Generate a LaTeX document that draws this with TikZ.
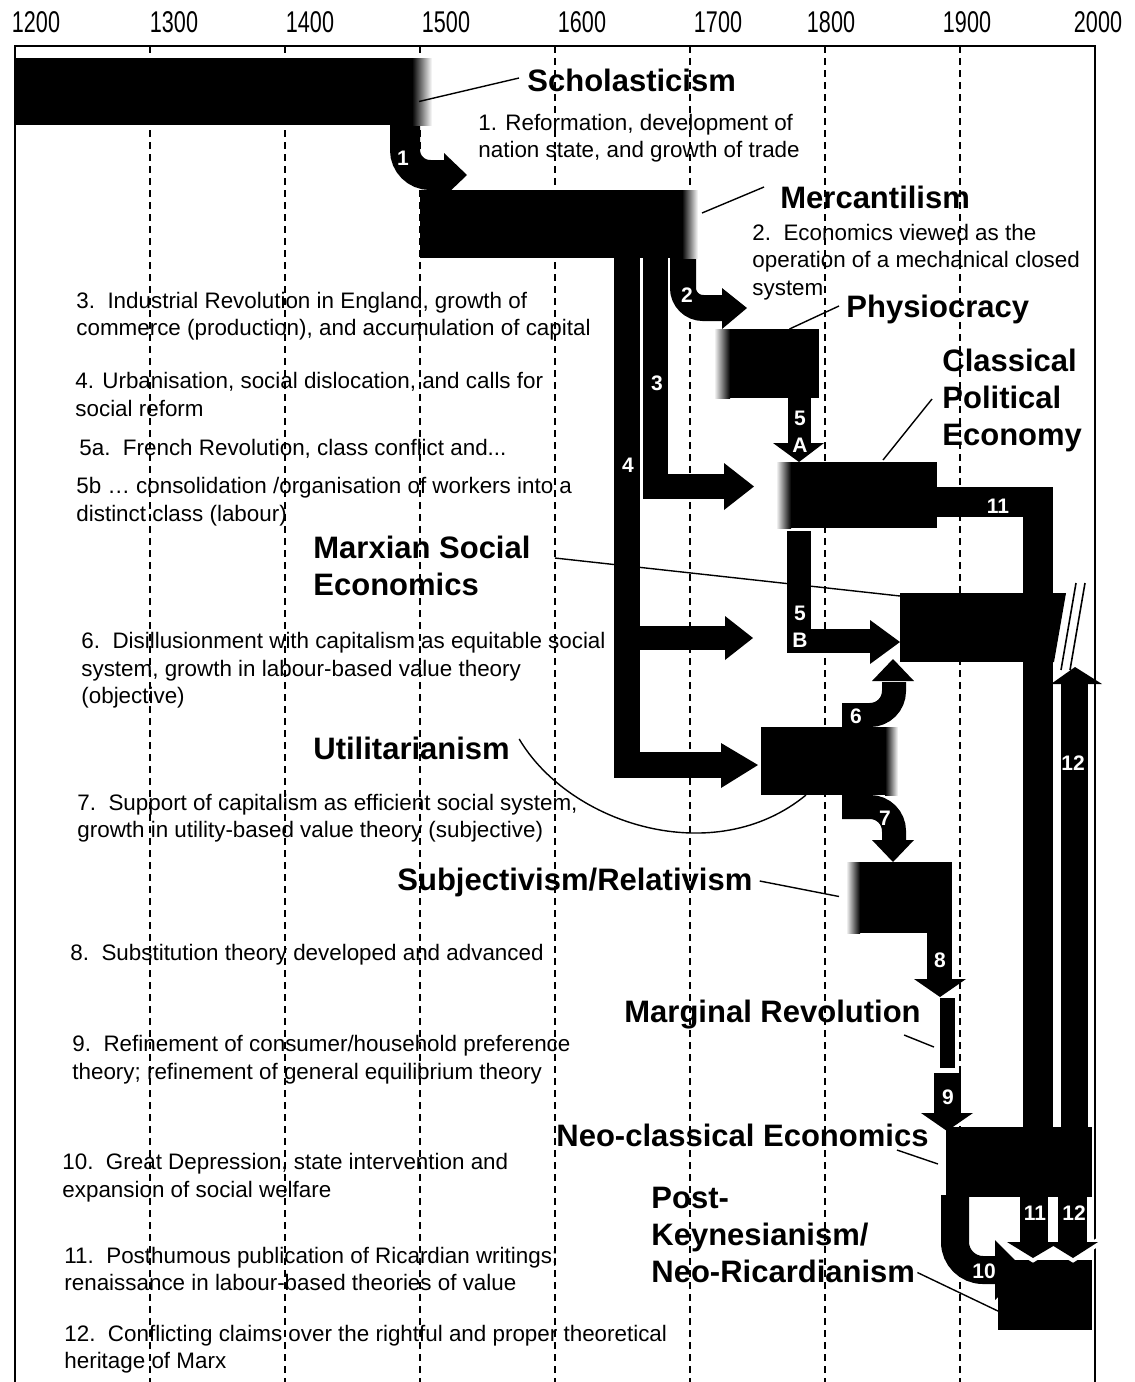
\documentclass[tikz,border=0pt]{standalone}
\usepackage{fontspec}
\setmainfont{Liberation Sans}
\newfontfamily\yearfont[FakeStretch=0.72]{Liberation Sans}
\usetikzlibrary{fit,calc}

\tikzset{
  blk/.style={fill=black, inner sep=0pt, outer sep=0pt},
  flow/.style={draw=black, line width=#1},
  yearline/.style={dash pattern=on 3.5pt off 2.5pt, line width=0.6pt},
  school/.style={font=\fontsize{15.5}{18.5}\selectfont\bfseries, align=left, anchor=west, inner sep=0pt},
  note/.style={font=\fontsize{11.2}{13.7}\selectfont, align=left, anchor=west, inner sep=0pt},
  num/.style={font=\fontsize{10.5}{13.5}\selectfont\bfseries, text=white, align=center, inner sep=0pt},
  year/.style={font=\yearfont\fontsize{15}{16}\selectfont, inner sep=0pt},
  leader/.style={line width=0.7pt},
}

\begin{document}
\begin{tikzpicture}[x=0.5pt, y=-0.5pt]
\useasboundingbox (0,0) rectangle (1135,1382);

\foreach \yr/\x in {1200/36,1300/174,1400/310,1500/446,1600/582,1700/718,1800/831,1900/967,2000/1098}
  \node[year] (y\yr) at (\x,22) {\yr};
\foreach \x in {150,285,420,555,690,825,960}
  \draw[yearline] (\x,46) -- (\x,1382);
\draw[line width=1.2pt] (15,1382) -- (15,46) -- (1095,46) -- (1095,1382);

% notes
\node[note] (t1) at (478,138.5) {1. Reformation, development of\\nation state, and growth of trade};
\node[note] (t2) at (752,262) {2.\ \ Economics viewed as the\\operation of a mechanical closed\\system};
\node[note] (t3) at (76,316.5) {3.\ \ Industrial Revolution in England, growth of\\commerce (production), and accumulation of capital};
\node[note] (t4) at (75,394.5) {4. Urbanisation, social dislocation, and calls for\\social reform};
\node[note] (t5a) at (79,449) {5a.\ \ French Revolution, class conflict and...};
\node[note] (t5b) at (76,501.5) {5b … consolidation /organisation of workers into a\\distinct class (labour)};
\node[note] (t6) at (81,670.5) {6.\ \ Disillusionment with capitalism as equitable social\\system, growth in labour-based value theory\\(objective)};
\node[note] (t7) at (77,818) {7.\ \ Support of capitalism as efficient social system,\\growth in utility-based value theory (subjective)};
\node[note] (t8) at (70,955) {8.\ \ Substitution theory developed and advanced};
\node[note] (t9) at (72,1059.5) {9.\ \ Refinement of consumer/household preference\\theory; refinement of general equilibrium theory};
\node[note] (t10) at (62,1177.5) {10.\ \ Great Depression, state intervention and\\expansion of social welfare};
\node[note] (t11) at (64,1269) {11.\ \ Posthumous publication of Ricardian writings;\\renaissance in labour-based theories of value};
\node[note] (t12) at (64,1349) {12.\ \ Conflicting claims over the rightful and proper theoretical\\heritage of Marx};

% schools
\node[school] (schol-lbl) at (527,80) {Scholasticism};
\node[school] (merc-lbl) at (780,197) {Mercantilism};
\node[school] (physio-lbl) at (846,309) {Physiocracy};
\node[school] (classic-lbl) at (942,400) {Classical\\Political\\Economy};
\node[school] (marx-lbl) at (313,566) {Marxian Social\\Economics};
\node[school] (util-lbl) at (313,748) {Utilitarianism};
\node[school] (subj-lbl) at (397,882) {Subjectivism/Relativism};
\node[school] (margin-lbl) at (624,1015) {Marginal Revolution};
\node[school] (neo-lbl) at (556,1135) {Neo-classical Economics};
\node[school] (pk-lbl) at (651,1234.5) {Post-\\Keynesianism/\\Neo-Ricardianism};

% flows
\draw[flow=15pt, rounded corners=12.5pt] (405,120) |- (446,175);
\fill (444,153) -- (467,175) -- (444,197) -- cycle;
\draw[flow=13pt, rounded corners=10pt] (683,255) |- (725,308);
\fill (722,288) -- (747,308) -- (722,329) -- cycle;
\draw[flow=12.5pt] (655.5,255) |- (726,486.5);
\fill (724,463) -- (754,486.5) -- (724,510) -- cycle;
\draw[flow=13pt] (627,255) |- (723,765);
\fill (721,743) -- (758,765) -- (721,788) -- cycle;
\draw[flow=12pt] (627,638) -- (727,638);
\fill (725,616) -- (753,638) -- (725,660) -- cycle;
\draw[flow=11.5pt] (799,396) -- (799,445);
\fill (773,443) -- (799,462) -- (824,443) -- cycle;
\draw[flow=12pt] (799,531) |- (872,641);
\fill (870,620) -- (900,642) -- (870,664) -- cycle;
\draw[flow=12pt, rounded corners=12pt] (842,715) -| (894,682);
\fill (872,681) -- (893,659) -- (914,681) -- cycle;
\draw[flow=12pt, rounded corners=12pt] (842,807) -| (894,842);
\fill (872,840) -- (893,862) -- (914,840) -- cycle;
\draw[flow=12.5pt] (939.5,930) -- (939.5,981);
\fill (914,979) -- (940,997) -- (966,979) -- cycle;
\draw[flow=13.5pt] (947.5,1073) -- (947.5,1115);
\fill (921,1113) -- (947,1131) -- (973,1113) -- cycle;
\draw[flow=15pt] (930,502) -| (1037.5,1130);
\draw[flow=13.5pt] (1074.5,1130) -- (1074.5,682);
\fill (1051,684) -- (1075,667) -- (1102,684) -- cycle;
\draw[flow=14pt, rounded corners=14pt] (955,1195) |- (1000,1270);
\fill (995,1240) -- (1025,1270) -- (995,1300) -- cycle;

% schools as bars
\node[blk, fit={(15,58) (412,125)}] (schol) {};
\shade[left color=black, right color=white] (412,58) rectangle (432,125);
\node[blk, fit={(420,190) (682,258)}] (merc) {};
\shade[left color=black, right color=white] (682,190) rectangle (698,258);
\node[blk, fit={(730,329) (819,398)}] (physio) {};
\shade[left color=white, right color=black] (714,329) rectangle (730,398);
\node[blk, fit={(791,462) (937,528)}] (classic) {};
\shade[left color=white, right color=black] (776,462) rectangle (791,528);
\node[blk, fit={(900,593) (1054,662)}] (marx) {};
\fill (1053,593) -- (1066,593) -- (1054,662) -- (1053,662) -- cycle;
\draw[line width=0.8pt] (1076,583) -- (1061,670);
\draw[line width=0.8pt] (1085,583) -- (1070,670);
\node[blk, fit={(761,727) (885,795)}] (util) {};
\shade[left color=black, right color=white] (885,727) rectangle (898,795);
\node[blk, fit={(860,862) (952,933)}] (subj) {};
\shade[left color=white, right color=black] (846,862) rectangle (860,933);
\node[blk, fit={(940,998) (955,1068)}] (margin) {};
\node[blk, fit={(946,1127) (1092,1197)}] (neo) {};
\node[blk, fit={(998,1260) (1092,1330)}] (pk) {};

\draw[flow=14pt] (1034,1195) -- (1034,1244);
\draw[flow=14.5pt] (1072.5,1195) -- (1072.5,1244);
\draw[white, line width=4pt] (1007,1242) -- (1033,1258) -- (1053,1246) -- (1073,1258) -- (1098,1242);
\fill (1007,1242) -- (1033,1258) -- (1060,1242) -- cycle;
\fill (1047,1242) -- (1073,1258) -- (1098,1242) -- cycle;

% numbers
\node[num] (f1) at (403,158) {1};
\node[num] (f2) at (687,295) {2};
\node[num] (f3) at (657,383) {3};
\node[num] (f4) at (628,465) {4};
\node[num] (f5a) at (800,431.5) {5\\A};
\node[num] (f5b) at (800,626.5) {5\\B};
\node[num] (f6) at (856,716) {6};
\node[num] (f7) at (885,818) {7};
\node[num] (f8) at (940,960) {8};
\node[num] (f9) at (948,1097) {9};
\node[num] (f10) at (984,1271) {10};
\node[num] (f11a) at (998,506) {11};
\node[num] (f12a) at (1073,763) {12};
\node[num] (f11b) at (1035,1213) {11};
\node[num] (f12b) at (1074,1213) {12};

% leaders
\draw[leader] ($(schol-lbl.west)+(-8,-2)$) -- ($(schol.east)+(7,10)$);
\draw[leader] ($(merc-lbl.west)+(-16,-10)$) -- ($(merc.east)+(20,-11)$);
\draw[leader] ($(physio-lbl.west)+(-7,-3)$) -- ($(physio.north)+(15,0)$);
\draw[leader] ($(classic-lbl.west)+(-10,-1)$) -- ($(classic.north)+(19,-2)$);
\draw[leader] ($(marx-lbl.east)+(24,-8)$) -- ($(marx.north west)+(0,3)$);
\draw[leader] ($(util-lbl.east)+(9,-9)$) .. controls (570,825) and (715,870) .. ($(util.south)+(-17,0)$);
\draw[leader] ($(subj-lbl.east)+(7,-1)$) -- ($(subj.west)+(-21,-1)$);
\draw[leader] ($(margin-lbl.east)+(-17,20)$) -- ($(margin.west)+(-6,14)$);
\draw[leader] ($(neo-lbl.east)+(-32,15)$) -- ($(neo.west)+(-8,2)$);
\draw[leader] ($(pk-lbl.east)+(2,38)$) -- ($(pk.west)+(2,17)$);
\end{tikzpicture}
\end{document}
